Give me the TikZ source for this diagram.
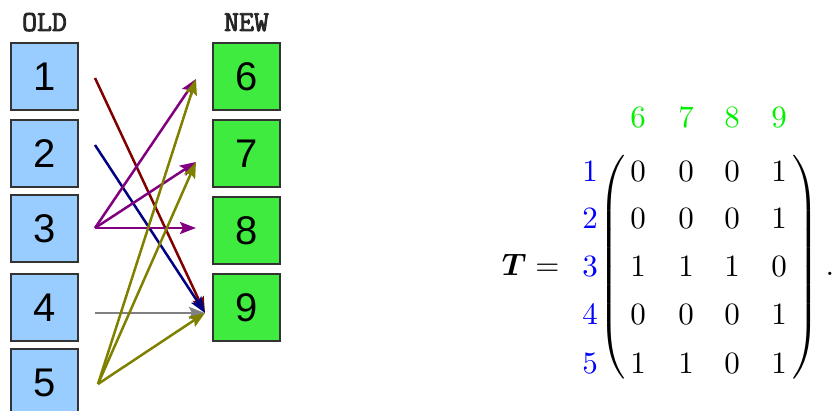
\documentclass[tikz,border=0pt]{standalone}
\usepackage{amsmath}
\usepackage{fontspec}
\newfontfamily\boxfont{Liberation Sans}
\newfontfamily\labfont{Latin Modern Mono}[FakeBold=3]
\usetikzlibrary{arrows.meta}
\definecolor{oldfill}{RGB}{153,204,255}
\definecolor{newfill}{RGB}{64,235,64}
\definecolor{boxline}{RGB}{51,51,51}
\definecolor{colgreen}{RGB}{0,240,0}
\definecolor{rowblue}{RGB}{0,0,255}
\definecolor{cmaroon}{RGB}{128,0,0}
\definecolor{cnavy}{RGB}{0,0,128}
\definecolor{cpurple}{RGB}{128,0,128}
\definecolor{colive}{RGB}{128,128,0}
\definecolor{cgray}{RGB}{128,128,128}
\tikzset{
  oldbox/.style={draw=boxline, line width=1.2pt, fill=oldfill, minimum width=67pt, minimum height=67pt, inner sep=0pt, font=\boxfont\fontsize{40}{44}\selectfont},
  newbox/.style={oldbox, fill=newfill},
  headlab/.style={font=\labfont\fontsize{29}{31}\selectfont, anchor=base, text=black!85},
  conn/.style={line width=2.5pt, -{Stealth[length=16pt,width=12pt,inset=3pt]}},
  mathent/.style={anchor=base, inner sep=0pt, scale=3.1},
}
\begin{document}
\begin{tikzpicture}[x=1pt,y=-1pt]
\useasboundingbox (0,0) rectangle (840,411);
% headers
\node[headlab] (hold) at (44.5,31) {OLD};
\node[headlab] (hnew) at (246.5,31) {NEW};
% old boxes
\node[oldbox] (o1) at (44.5,76.5) {1};
\node[oldbox] (o2) at (44.5,153.5) {2};
\node[oldbox] (o3) at (44.5,228.5) {3};
\node[oldbox] (o4) at (44.5,307.5) {4};
\node[oldbox] (o5) at (44.5,382.5) {5};
% new boxes
\node[newbox] (n6) at (246.5,76.5) {6};
\node[newbox] (n7) at (246.5,153.5) {7};
\node[newbox] (n8) at (246.5,230.5) {8};
\node[newbox] (n9) at (246.5,307.5) {9};
% connector ends
\coordinate (s1) at (95,78);
\coordinate (s2) at (95,145);
\coordinate (s3) at (95,228);
\coordinate (s4) at (95,313);
\coordinate (s5) at (98,384);
\coordinate (t6) at (196,79);
\coordinate (t7) at (196,162);
\coordinate (t8) at (196,228);
\coordinate (t9) at (205,313);
% connectors
\draw[conn, cmaroon] (s1) -- (t9);
\draw[conn, cnavy] (s2) -- (t9);
\draw[conn, cpurple] (s3) -- (t6);
\draw[conn, cpurple] (s3) -- (t7);
\draw[conn, cpurple] (s3) -- (t8);
\draw[conn, cgray] (s4) -- (t9);
\draw[conn, colive] (s5) -- (t6);
\draw[conn, colive] (s5) -- (t7);
\draw[conn, colive] (s5) -- (t9);
% matrix
\node[mathent, anchor=base east] (T) at (560,276) {$\boldsymbol{T}=$};
\foreach \c/\x in {6/638,7/686,8/732,9/779}{
  \node[mathent, text=colgreen] (c\c) at (\x,128) {$\c$};
}
\foreach \r/\y in {1/182,2/229,3/277,4/325,5/373}{
  \node[mathent, text=rowblue] (r\r) at (590,\y) {$\r$};
}
\foreach \r/\y/\a/\b/\cc/\d in {1/182/0/0/0/1,2/229/0/0/0/1,3/277/1/1/1/0,4/325/0/0/0/1,5/373/1/1/0/1}{
  \node[mathent] (m\r a) at (638,\y) {$\a$};
  \node[mathent] (m\r b) at (686,\y) {$\b$};
  \node[mathent] (m\r c) at (732,\y) {$\cc$};
  \node[mathent] (m\r d) at (779,\y) {$\d$};
}
\node[inner sep=0pt, scale=3.1] (lp) at (614,267) {$\left(\vcenter{\hrule height 72pt width 0pt}\right.$};
\node[inner sep=0pt, scale=3.1] (rp) at (804,267) {$\left.\vcenter{\hrule height 72pt width 0pt}\right)$};
\node[mathent] (dot) at (830,276) {$.$};
\end{tikzpicture}
\end{document}
